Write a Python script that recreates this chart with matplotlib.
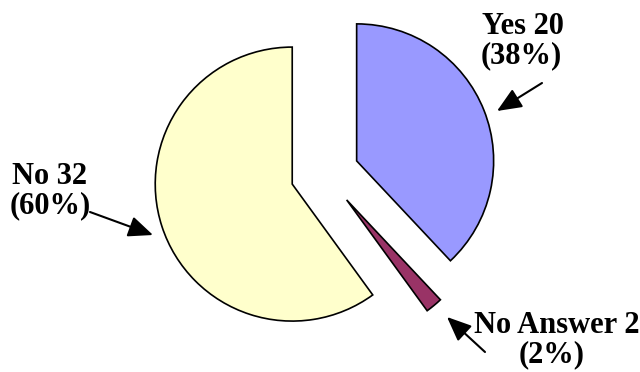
import matplotlib
matplotlib.use("Agg")
import matplotlib.pyplot as plt

categories = ["Yes", "No Answer", "No"]
counts = [20, 2, 32]
percents = [38, 2, 60]
colors = ["#9999FF", "#993366", "#FFFFCC"]

W, H = 640, 372
R = 137
fig = plt.figure(figsize=(W / 100, H / 100), dpi=100)
ax = fig.add_axes([0, 0, 1, 1])

# explode is given in data units, a quarter of the radius for every slice
ax.pie(percents, colors=colors, startangle=90, counterclock=False,
       explode=[0.25 * R] * len(percents), radius=R, center=(324.8, H - 173.5),
       wedgeprops=dict(edgecolor="black", linewidth=1.2))

ax.set_xlim(0, W)
ax.set_ylim(0, H)
ax.set_aspect("equal")
ax.axis("off")

font = dict(family="Liberation Serif", fontweight="bold", fontsize=22,
            ha="center", va="baseline", color="black")

# (category index, centre x of each line, baseline y of each line)
label_pos = {
    0: ((523, 34), (521, 63)),
    1: ((557, 333), (552, 362)),
    2: ((50, 184), (50, 213)),
}
for i, ((x1, y1), (x2, y2)) in label_pos.items():
    ax.text(x1, H - y1, f"{categories[i]} {counts[i]}", **font)
    ax.text(x2, H - y2, f"({percents[i]}%)", **font)

arrows = [
    ((542, 83), (497, 111)),
    ((485, 352), (447, 317)),
    ((90, 212), (153, 235)),
]
for (sx, sy), (tx, ty) in arrows:
    ax.annotate("", xy=(tx, H - ty), xytext=(sx, H - sy),
                arrowprops=dict(arrowstyle="-|>,head_length=0.75,head_width=0.32",
                                mutation_scale=20, color="black", lw=1.5,
                                shrinkA=0, shrinkB=0))

fig.savefig("out.png", dpi=100)
